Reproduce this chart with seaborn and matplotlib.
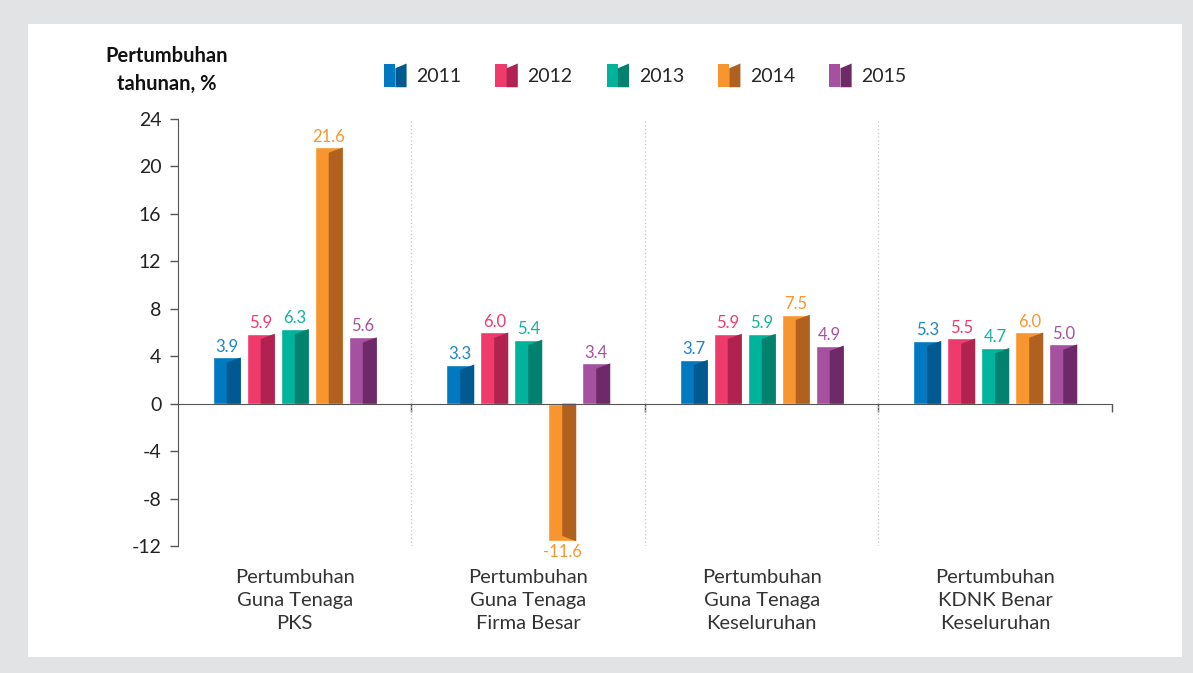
import pandas as pd
import matplotlib.pyplot as plt
import matplotlib.patches as mpatches
from matplotlib.legend_handler import HandlerBase
import seaborn as sns

categories = ['Pertumbuhan\nGuna Tenaga\nPKS',
              'Pertumbuhan\nGuna Tenaga\nFirma Besar',
              'Pertumbuhan\nGuna Tenaga\nKeseluruhan',
              'Pertumbuhan\nKDNK Benar\nKeseluruhan']
years = ['2011', '2012', '2013', '2014', '2015']
v2011 = [3.9, 3.3, 3.7, 5.3]
v2012 = [5.9, 6.0, 5.9, 5.5]
v2013 = [6.3, 5.4, 5.9, 4.7]
v2014 = [21.6, -11.6, 7.5, 6.0]
v2015 = [5.6, 3.4, 4.9, 5.0]
yticks = [-12, -8, -4, 0, 4, 8, 12, 16, 20, 24]

light = ['#0079c1', '#ee3b6b', '#00b39b', '#f7962f', '#a6519f']
dark = ['#00598f', '#b0224f', '#00826e', '#b0601f', '#6e2a68']
label_cols = ['#1b87c9', '#ee3b6b', '#12b39c', '#f7962f', '#a6519f']

rows = []
for y, vals in zip(years, [v2011, v2012, v2013, v2014, v2015]):
    for c, v in zip(categories, vals):
        rows.append({'cat': c, 'year': y, 'val': v})
df = pd.DataFrame(rows)

sns.set_style('white')
plt.rcParams['font.family'] = ['Lato', 'DejaVu Sans']

fig = plt.figure(figsize=(11.93, 6.73), dpi=100, facecolor='#e2e3e5')
fig.patches.append(mpatches.Rectangle((28 / 1193, 1 - 657 / 673), 1154 / 1193, 633 / 673,
                                      transform=fig.transFigure, facecolor='white',
                                      edgecolor='none', zorder=-5))
ax = fig.add_axes([0.1492, 0.1887, 0.7829, 0.6345])
ax.set_facecolor('none')

sns.barplot(data=df, x='cat', y='val', hue='year', palette=light, width=0.728, gap=0.176,
            saturation=1, legend=False, ax=ax, zorder=3)

# darker right face on each bar
for i, cont in enumerate(ax.containers):
    for p in cont.patches:
        x0, w, h = p.get_x(), p.get_width(), p.get_height()
        xm = x0 + w / 2
        d = 0.45 if h > 0 else -0.45
        poly = mpatches.Polygon([(xm, 0), (xm, h - d), (x0 + w, h), (x0 + w, 0)],
                                closed=True, facecolor=dark[i], edgecolor='none', zorder=4)
        ax.add_patch(poly)
    ax.bar_label(cont, fmt='%.1f', padding=2, color=label_cols[i], fontsize=12)

ax.set_ylim(-12, 24)
ax.set_xlim(-0.5, 3.5)
ax.set_yticks(yticks)
ax.set_yticklabels([str(t) for t in yticks], fontsize=14, color='#222222')
ax.tick_params(axis='y', direction='out', length=6, width=1, color='#555555', pad=6, left=True)
ax.set_xticks([0.5, 1.5, 2.5, 3.5])
ax.set_xticklabels([])
ax.tick_params(axis='x', direction='out', length=6, width=1, color='#555555', bottom=True)
ax.set_xlabel('')
ax.set_ylabel('')
for s in ['top', 'right']:
    ax.spines[s].set_visible(False)
ax.spines['bottom'].set_position(('data', 0))
ax.spines['bottom'].set_color('#555555')
ax.spines['left'].set_color('#555555')
ax.spines['bottom'].set_zorder(5)

for xs in [0.5, 1.5, 2.5]:
    ax.axvline(xs, color='#c4c4c4', linestyle=(0, (1, 2)), linewidth=0.9, zorder=1)

for i, c in enumerate(categories):
    ax.text(i, -0.055, c, transform=ax.get_xaxis_transform(), ha='center', va='top',
            fontsize=14.5, color='#333333', linespacing=1.4)

fig.text(0.1395, 0.896, 'Pertumbuhan\ntahunan, %', ha='center', va='center',
         fontsize=14.5, fontweight='bold', color='#111111', linespacing=1.45)


class TwoTone(HandlerBase):
    def create_artists(self, legend, orig, xd, yd, width, height, fontsize, trans):
        i = int(orig.get_label())
        a = mpatches.Rectangle((-xd, -yd), width / 2, height, facecolor=light[i],
                               edgecolor='none', transform=trans)
        b = mpatches.Polygon([(-xd + width / 2, -yd), (-xd + width / 2, -yd + height * 0.8),
                              (-xd + width, -yd + height), (-xd + width, -yd)],
                             facecolor=dark[i], edgecolor='none', transform=trans)
        return [a, b]


handles = [mpatches.Rectangle((0, 0), 1, 1, label=str(i)) for i in range(len(years))]
fig.legend(handles, years, handler_map={mpatches.Rectangle: TwoTone()}, ncol=5,
           loc='center', bbox_to_anchor=(0.541, 0.888), frameon=False, fontsize=14,
           handlelength=1.15, handleheight=1.5, handletextpad=0.5, columnspacing=1.75)

plt.savefig('out.png', dpi=100, facecolor=fig.get_facecolor())
